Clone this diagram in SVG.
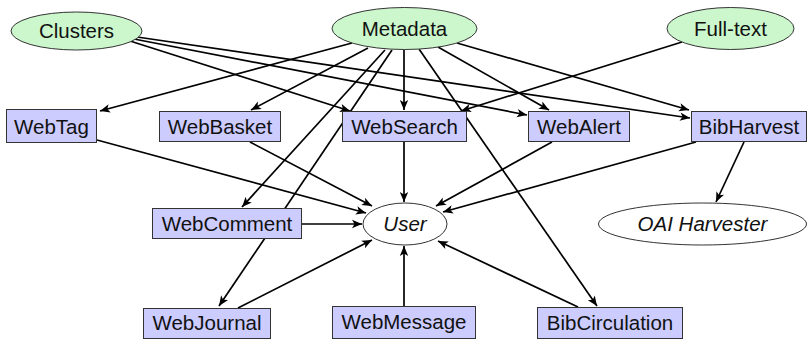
<svg xmlns="http://www.w3.org/2000/svg" width="808" height="339" viewBox="0 0 808 339">
<defs>
<marker id="arr" viewBox="-11 -5 12 10" refX="0" refY="0" markerWidth="12" markerHeight="10" markerUnits="userSpaceOnUse" orient="auto">
<path d="M0,0 L-10,-4.2 L-7.5,0 L-10,4.2 Z" fill="#000"/>
</marker>
<style>
text{font-family:"Liberation Sans",Arial,sans-serif;font-size:20.5px;fill:#111;text-anchor:middle}
.src{fill:#ccf7cc;stroke:#333;stroke-width:1}
.mod{fill:#ccccff;stroke:#333;stroke-width:1}
.out{fill:#fff;stroke:#333;stroke-width:1}
.it{font-style:italic}
#edges line{stroke:#000;stroke-width:1.7;marker-end:url(#arr)}
</style>
</defs>
<rect width="808" height="339" fill="#fff"/>
<g id="edges">
<line x1="130" y1="41" x2="350" y2="111"/>
<line x1="134" y1="39" x2="527" y2="115"/>
<line x1="137" y1="37" x2="690" y2="118"/>
<line x1="352" y1="43" x2="100" y2="111"/>
<line x1="368" y1="48" x2="251" y2="110"/>
<line x1="385" y1="50" x2="242" y2="207"/>
<line x1="392" y1="50" x2="219" y2="306"/>
<line x1="404" y1="50" x2="404" y2="110"/>
<line x1="419" y1="49" x2="597" y2="306"/>
<line x1="438" y1="47" x2="549" y2="110"/>
<line x1="457" y1="43" x2="689" y2="110"/>
<line x1="682" y1="42" x2="461" y2="111"/>
<line x1="97" y1="140" x2="366" y2="213"/>
<line x1="250" y1="142" x2="372" y2="206"/>
<line x1="404" y1="142" x2="404" y2="202"/>
<line x1="552" y1="142" x2="436" y2="206"/>
<line x1="696" y1="142" x2="443" y2="212"/>
<line x1="302" y1="224" x2="362" y2="224"/>
<line x1="238" y1="308" x2="372" y2="240"/>
<line x1="404" y1="306" x2="404" y2="246"/>
<line x1="578" y1="307" x2="438" y2="241"/>
<line x1="744" y1="142" x2="716" y2="202"/>
</g>
<g id="clusters"><ellipse class="src" cx="76.5" cy="31" rx="65.5" ry="19"/><text x="76.5" y="38">Clusters</text></g>
<g id="metadata"><ellipse class="src" cx="404.5" cy="28.5" rx="72.5" ry="21"/><text x="404.5" y="36">Metadata</text></g>
<g id="fulltext"><ellipse class="src" cx="730.5" cy="28.5" rx="63.5" ry="21"/><text x="730.5" y="36">Full-text</text></g>
<g id="webtag"><rect class="mod" x="6.5" y="109.5" width="90" height="33"/><text x="51.5" y="133.5">WebTag</text></g>
<g id="webbasket"><rect class="mod" x="159.5" y="111.5" width="121" height="30"/><text x="220" y="133.5">WebBasket</text></g>
<g id="websearch"><rect class="mod" x="342.5" y="111.5" width="124" height="30"/><text x="404.5" y="133.5">WebSearch</text></g>
<g id="webalert"><rect class="mod" x="528.5" y="111.5" width="101" height="30"/><text x="579" y="133.5">WebAlert</text></g>
<g id="bibharvest"><rect class="mod" x="691.5" y="111.5" width="115" height="30"/><text x="749" y="133.5">BibHarvest</text></g>
<g id="webcomment"><rect class="mod" x="152.5" y="208.5" width="149" height="30"/><text x="227" y="230.5">WebComment</text></g>
<g id="user"><ellipse class="out" cx="405" cy="224" rx="42" ry="21"/><text class="it" x="405" y="231">User</text></g>
<g id="oaiharvester"><ellipse class="out" cx="702.5" cy="224" rx="104" ry="21"/><text class="it" x="702.5" y="231">OAI Harvester</text></g>
<g id="webjournal"><rect class="mod" x="143.5" y="308.5" width="127" height="30"/><text x="207" y="330">WebJournal</text></g>
<g id="webmessage"><rect class="mod" x="332.5" y="306.5" width="143" height="32"/><text x="404" y="328.5">WebMessage</text></g>
<g id="bibcirculation"><rect class="mod" x="537.5" y="307.5" width="145" height="31"/><text x="610" y="330">BibCirculation</text></g>
</svg>
